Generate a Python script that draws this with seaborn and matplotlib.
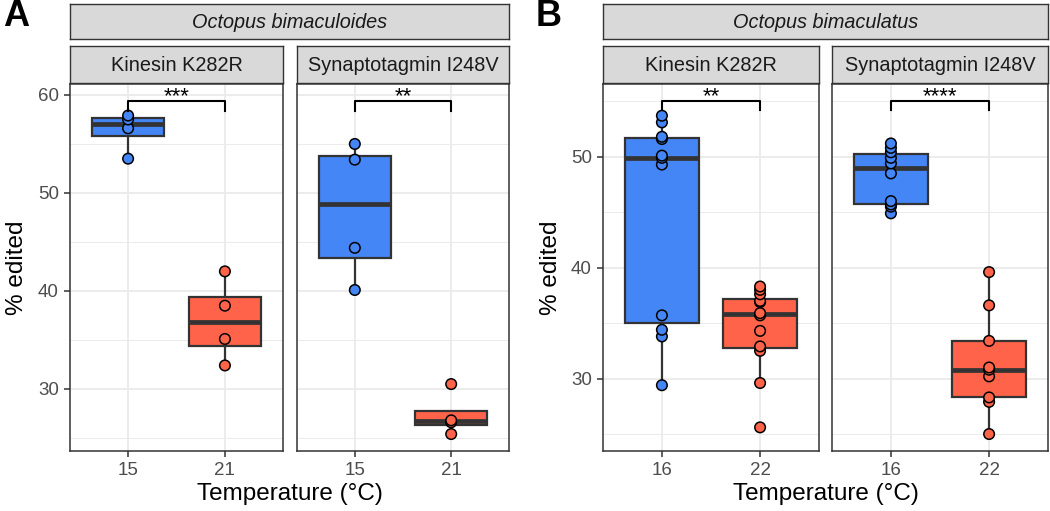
"""RNA editing vs temperature - boxplots for two octopus species"""
import numpy as np
import pandas as pd
import matplotlib.pyplot as plt
from matplotlib.ticker import MultipleLocator
import seaborn as sns

# Data (% edited)
# Octopus bimaculoides, 15 vs 21 C
kin_ob_15 = [53.5, 56.6, 57.5, 57.9]
kin_ob_21 = [32.4, 35.1, 38.5, 42.0]
syt_ob_15 = [40.1, 44.4, 53.4, 55.0]
syt_ob_21 = [25.4, 26.6, 26.8, 30.5]
# Octopus bimaculatus, 16 vs 22 C
kin_oc_16 = [29.4, 33.8, 34.4, 35.7, 49.3, 49.9, 50.1, 51.6, 51.8, 53.1, 53.7]
kin_oc_22 = [25.6, 29.6, 32.5, 32.9, 34.3, 35.7, 35.9, 36.9, 37.0, 37.6, 38.0, 38.3]
syt_oc_16 = [44.9, 45.5, 45.7, 46.0, 48.5, 49.4, 49.9, 50.4, 50.8, 51.2]
syt_oc_22 = [25.0, 27.9, 28.3, 30.2, 30.8, 31.0, 33.4, 36.6, 39.6]

species = ['Octopus bimaculoides', 'Octopus bimaculatus']
genes = ['Kinesin K282R', 'Synaptotagmin I248V']
temps = {'Octopus bimaculoides': ['15', '21'], 'Octopus bimaculatus': ['16', '22']}
stars = {('Octopus bimaculoides', 'Kinesin K282R'): '***',
         ('Octopus bimaculoides', 'Synaptotagmin I248V'): '**',
         ('Octopus bimaculatus', 'Kinesin K282R'): '**',
         ('Octopus bimaculatus', 'Synaptotagmin I248V'): '****'}

rows = []
for sp, gene, t, vals in [
        (species[0], genes[0], '15', kin_ob_15), (species[0], genes[0], '21', kin_ob_21),
        (species[0], genes[1], '15', syt_ob_15), (species[0], genes[1], '21', syt_ob_21),
        (species[1], genes[0], '16', kin_oc_16), (species[1], genes[0], '22', kin_oc_22),
        (species[1], genes[1], '16', syt_oc_16), (species[1], genes[1], '22', syt_oc_22)]:
    for v in vals:
        rows.append({'species': sp, 'gene': gene, 'temp': t, 'edited': v})
data = pd.DataFrame(rows)

BLUE = '#4486F6'
RED = '#FF644A'
DARK = '#333333'
FONT = ['Liberation Sans', 'DejaVu Sans']
plt.rcParams['font.family'] = FONT

W, H = 1050, 511
fig = plt.figure(figsize=(W / 100, H / 100), dpi=100)


def rect(x0, y0, x1, y1):
    # pixel box (top-left origin) -> figure fraction
    return [x0 / W, 1 - y1 / H, (x1 - x0) / W, (y1 - y0) / H]


def strip(x0, y0, x1, y1, label, italic=False):
    s = fig.add_axes(rect(x0, y0, x1, y1))
    s.set_facecolor('#D9D9D9')
    s.set_xticks([])
    s.set_yticks([])
    for sp in s.spines.values():
        sp.set_color(DARK)
        sp.set_linewidth(1.0)
    s.text(0.5, 0.47, label, ha='center', va='center', fontsize=14.3,
           color='#1A1A1A', style='italic' if italic else 'normal',
           transform=s.transAxes)


# panel layout in pixels
layout = {
    'Octopus bimaculoides': {'facets': [(70, 283), (297, 509)], 'ylim': (23.67, 61.12),
                             'yticks': [30, 40, 50, 60], 'bracket': 59.4, 'tip': 1.0,
                             'letter': ('A', 3), 'ylab_x': 17},
    'Octopus bimaculatus': {'facets': [(603, 819), (832, 1048)], 'ylim': (23.47, 56.56),
                            'yticks': [30, 40, 50], 'bracket': 55.03, 'tip': 0.85,
                            'letter': ('B', 536), 'ylab_x': 551},
}
Y_TOP, Y_BOT = 84, 451

for sp in species:
    cfg = layout[sp]
    order = temps[sp]
    (fx0, _), (_, fx1) = cfg['facets']
    strip(fx0, 4, fx1, 39, sp, italic=True)
    for i, gene in enumerate(genes):
        x0, x1 = cfg['facets'][i]
        strip(x0, 46, x1, 83, gene)
        ax = fig.add_axes(rect(x0, Y_TOP, x1, Y_BOT))
        sub = data[(data['species'] == sp) & (data['gene'] == gene)]
        ax.set_axisbelow(True)
        sns.boxplot(data=sub, x='temp', y='edited', hue='temp', order=order,
                    hue_order=order, palette=[BLUE, RED], saturation=1, width=0.75,
                    linecolor=DARK, linewidth=1.6, showfliers=False, showcaps=False,
                    medianprops={'linewidth': 3.4, 'color': DARK}, legend=False, ax=ax)
        sns.stripplot(data=sub, x='temp', y='edited', hue='temp', order=order,
                      hue_order=order, palette=[BLUE, RED], jitter=False, size=7.6,
                      edgecolor='black', linewidth=1.1, legend=False, ax=ax, zorder=4)
        # significance bracket
        yb, tip = cfg['bracket'], cfg['tip']
        ax.plot([0, 0, 1, 1], [yb - tip, yb, yb, yb - tip], color='black', lw=1.5,
                zorder=5, clip_on=False)
        ax.annotate(stars[(sp, gene)], (0.5, yb), xytext=(0, 3), textcoords='offset points',
                    ha='center', va='center', fontsize=16, color='black')
        ax.set_xlim(-0.6, 1.6)
        ax.set_ylim(*cfg['ylim'])
        ax.set_yticks(cfg['yticks'])
        ax.yaxis.set_minor_locator(MultipleLocator(5))
        ax.grid(True, which='major', color='#EBEBEB', lw=1.3)
        ax.grid(True, which='minor', axis='y', color='#EBEBEB', lw=0.7)
        ax.tick_params(which='minor', length=0)
        ax.tick_params(which='major', length=4, width=1.1, color=DARK,
                       labelsize=13.5, labelcolor='#4D4D4D', pad=4)
        for s in ax.spines.values():
            s.set_color(DARK)
            s.set_linewidth(1.1)
        ax.set_xlabel('')
        ax.set_ylabel('')
        if i == 1:
            ax.set_yticklabels([])
            ax.tick_params(axis='y', length=0)
    # shared labels
    fig.text((fx0 + fx1) / 2 / W, 1 - 494 / H, 'Temperature (°C)', ha='center',
             va='center', fontsize=17.5, color='black')
    fig.text(cfg['ylab_x'] / W, 1 - (Y_TOP + Y_BOT) / 2 / H, '% edited', rotation=90,
             ha='center', va='center', fontsize=17.5, color='black')
    letter, lx = cfg['letter']
    fig.text(lx / W, 1 - 17 / H, letter, ha='left', va='center', fontsize=26,
             fontweight='bold', color='black')

plt.savefig('out.png', dpi=100)
